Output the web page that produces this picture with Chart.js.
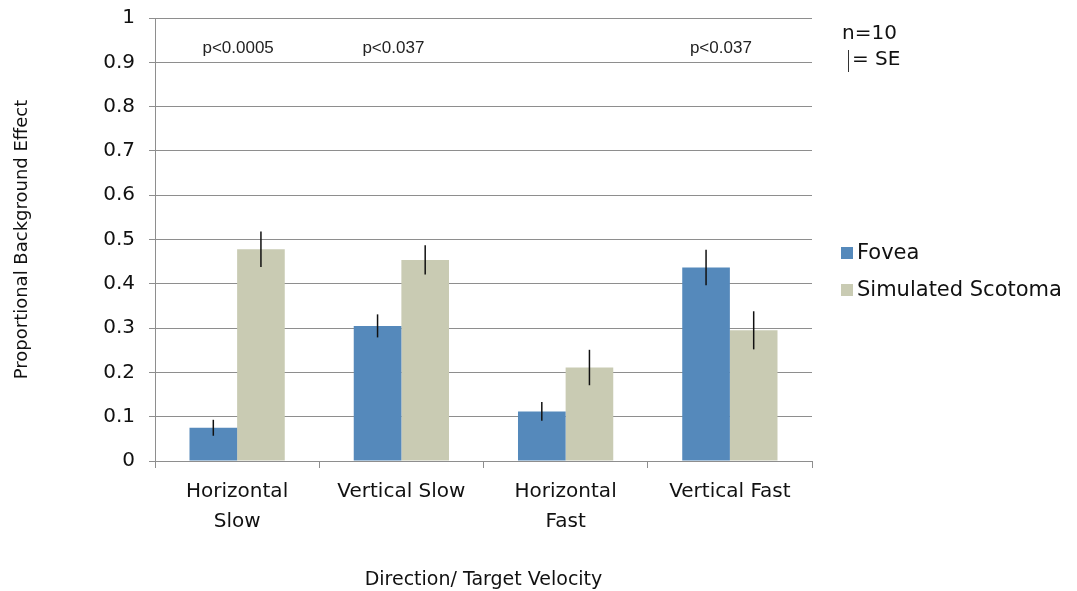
<!DOCTYPE html>
<html>
<head>
<meta charset="utf-8">
<script src="https://cdn.jsdelivr.net/npm/chart.js@4.4.1/dist/chart.umd.min.js"></script>
<style>
  html, body { margin: 0; padding: 0; background: #fff; }
  #wrap { width: 1077px; height: 591px; position: relative; }
</style>
</head>
<body>
<div id="wrap"><canvas id="c" width="1077" height="591"></canvas></div>
<script>
// Categories (direction / target velocity)
const categories = [['Horizontal', 'Slow'], 'Vertical Slow', ['Horizontal', 'Fast'], 'Vertical Fast'];

// Mean proportional background effect per condition
const foveaValues   = [0.075, 0.305, 0.112, 0.437];
const scotomaValues = [0.478, 0.454, 0.211, 0.295];

// Standard errors
const foveaSE   = [0.018, 0.026, 0.021, 0.040];
const scotomaSE = [0.040, 0.033, 0.040, 0.043];

// Significance labels above categories
const pCategories = [0, 1, 3];
const pLabels     = ['p<0.0005', 'p<0.037', 'p<0.037'];

const seriesNames = ['Fovea', 'Simulated Scotoma'];
const yTicks = { min: 0, max: 1, step: 0.1 };

const FOVEA_COLOR = '#5589bb';
const SCOTOMA_COLOR = '#c9cbb3';
const GRID_COLOR = '#8e8e8e';
const MAIN_FONT = '"DejaVu Sans", sans-serif';

// Vertical SE lines centred on each bar
const errorBars = {
  id: 'errorBars',
  afterDatasetsDraw(chart) {
    const ctx = chart.ctx;
    const y = chart.scales.y;
    ctx.save();
    ctx.strokeStyle = '#111';
    ctx.lineWidth = 1.5;
    chart.data.datasets.forEach((ds, di) => {
      const meta = chart.getDatasetMeta(di);
      meta.data.forEach((bar, i) => {
        const v = ds.data[i], e = ds.se[i];
        ctx.beginPath();
        ctx.moveTo(bar.x, y.getPixelForValue(v + e));
        ctx.lineTo(bar.x, y.getPixelForValue(v - e));
        ctx.stroke();
      });
    });
    ctx.restore();
  }
};

// p-value labels, sample-size note and the legend on the right
const annotations = {
  id: 'annotations',
  afterDraw(chart) {
    const ctx = chart.ctx;
    const x = chart.scales.x;
    ctx.save();
    ctx.fillStyle = '#222';
    ctx.font = '17px "Liberation Sans", Arial, sans-serif';
    ctx.textAlign = 'center';
    ctx.textBaseline = 'alphabetic';
    const shift = [1, -8, -9];
    pCategories.forEach((c, k) => {
      ctx.fillText(pLabels[k], x.getPixelForValue(c) + shift[k], 53);
    });

    ctx.fillStyle = '#111';
    ctx.textAlign = 'left';
    ctx.textBaseline = 'middle';
    ctx.font = '20px ' + MAIN_FONT;
    ctx.fillText('n=10', 842, 34);
    ctx.fillText('= SE', 852, 60);
    ctx.strokeStyle = '#333';
    ctx.lineWidth = 1;
    ctx.beginPath();
    ctx.moveTo(848.5, 50);
    ctx.lineTo(848.5, 72);
    ctx.stroke();

    // legend
    const legendY = [253, 290];
    ctx.font = '21px ' + MAIN_FONT;
    chart.data.datasets.forEach((ds, i) => {
      ctx.fillStyle = ds.backgroundColor;
      ctx.fillRect(841, legendY[i] - 6, 12, 12);
      ctx.fillStyle = '#111';
      ctx.fillText(ds.label, 857, legendY[i] + 1);
    });
    ctx.restore();
  }
};

new Chart(document.getElementById('c'), {
  type: 'bar',
  data: {
    labels: categories,
    datasets: [
      { label: seriesNames[0], data: foveaValues, se: foveaSE, backgroundColor: FOVEA_COLOR },
      { label: seriesNames[1], data: scotomaValues, se: scotomaSE, backgroundColor: SCOTOMA_COLOR }
    ]
  },
  options: {
    responsive: false,
    animation: false,
    devicePixelRatio: 1,
    layout: { padding: { left: 0, right: 265, top: 18, bottom: 0 } },
    datasets: { bar: { categoryPercentage: 0.58, barPercentage: 1.0 } },
    plugins: {
      legend: { display: false },
      tooltip: { enabled: false }
    },
    scales: {
      x: {
        grid: { display: true, drawOnChartArea: false, color: GRID_COLOR, tickLength: 7, offset: true },
        border: { color: GRID_COLOR, width: 1 },
        ticks: { color: '#111', font: { family: MAIN_FONT, size: 20, lineHeight: 1.5 }, padding: 9, maxRotation: 0, autoSkip: false },
        title: { display: true, text: 'Direction/ Target Velocity', color: '#111',
                 font: { family: MAIN_FONT, size: 19 }, padding: { top: 22, bottom: 0 } },
        afterFit(s) { s.height = 130; s.paddingLeft = 0; s.paddingRight = 0; }
      },
      y: {
        min: yTicks.min, max: yTicks.max,
        grid: { color: GRID_COLOR, lineWidth: 1, tickLength: 6 },
        border: { color: GRID_COLOR, width: 1 },
        ticks: { stepSize: yTicks.step, color: '#111', font: { family: MAIN_FONT, size: 20 }, padding: 14,
                 callback: v => String(+v.toFixed(1)) },
        title: { display: true, text: 'Proportional Background Effect', color: '#111',
                 font: { family: MAIN_FONT, size: 18 }, padding: { top: 12, bottom: 0 } },
        afterFit(s) { s.width = 155; s.paddingTop = 0; s.paddingBottom = 0; }
      }
    }
  },
  plugins: [errorBars, annotations]
});
</script>
</body>
</html>
